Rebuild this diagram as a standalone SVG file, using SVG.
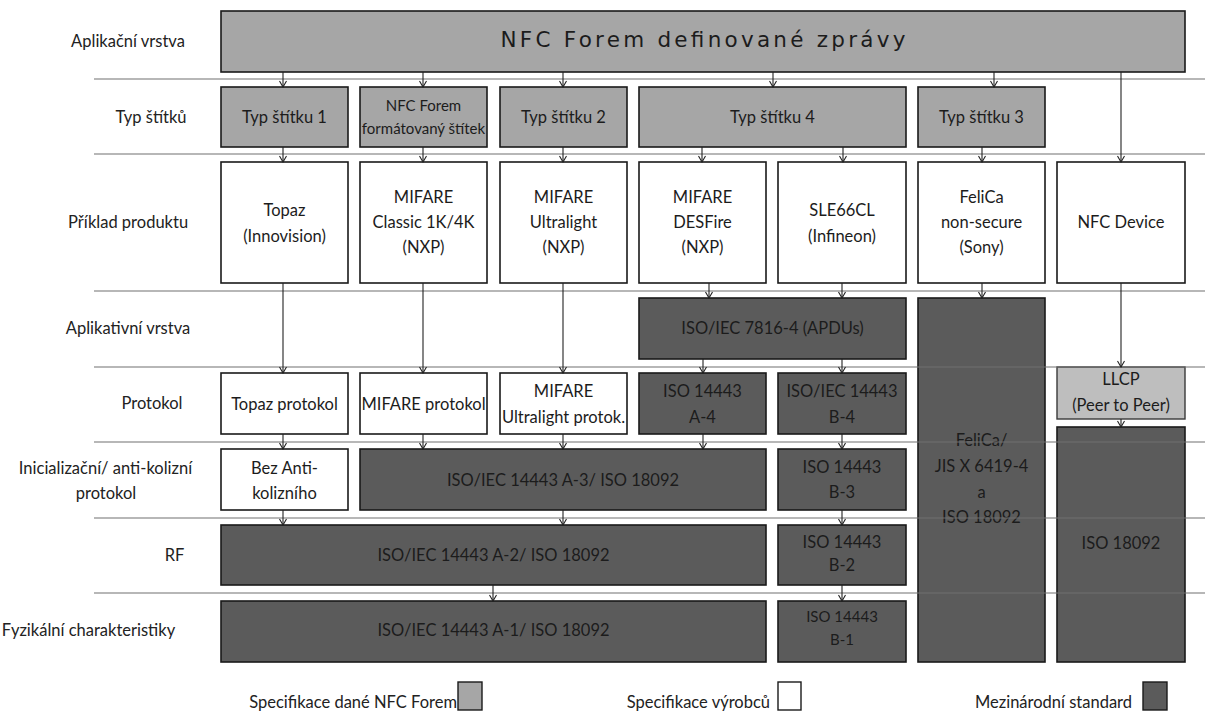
<svg xmlns="http://www.w3.org/2000/svg" width="1205" height="713" viewBox="0 0 1205 713">
<defs>
<marker id="arr" viewBox="0 0 8 8" refX="7" refY="4" markerWidth="8" markerHeight="8" markerUnits="userSpaceOnUse" orient="auto">
<path d="M1,0.5 L7,4 L1,7.5" fill="none" stroke="#222" stroke-width="1.1"/>
</marker>
<style>
text{font-family:Lato,"Liberation Sans",sans-serif;font-size:16.5px;fill:#1c1c1c;text-anchor:middle}
.lbl{fill:#222}
.forum{fill:#a6a6a6;stroke:#1a1a1a;stroke-width:1.6}
.maker{fill:#ffffff;stroke:#1a1a1a;stroke-width:1.6}
.intl{fill:#5b5b5b;stroke:#1a1a1a;stroke-width:1.6}
.llcp{fill:#bebebe;stroke:#3a3a3a;stroke-width:1.4}
.sep{stroke:#707070;stroke-width:1.2}
.con{stroke:#222;stroke-width:1.1;fill:none;marker-end:url(#arr)}
.title{font-family:"DejaVu Sans",sans-serif;font-size:21.5px}
.sm{font-size:15px}
</style>
</defs>
<rect width="1205" height="713" fill="#ffffff"/>

<g id="row-labels">
<text class="lbl" x="128" y="47">Aplikační vrstva</text>
<text class="lbl" x="151" y="123">Typ štítků</text>
<text class="lbl" x="128" y="228">Příklad produktu</text>
<text class="lbl" x="128" y="334">Aplikativní vrstva</text>
<text class="lbl" x="152" y="409">Protokol</text>
<text class="lbl" x="105.5" y="474">Inicializační/ anti-kolizní</text>
<text class="lbl" x="106" y="499">protokol</text>
<text class="lbl" x="174.5" y="561">RF</text>
<text class="lbl" x="88.5" y="636">Fyzikální charakteristiky</text>
</g>

<g id="n-nfc-messages"><rect class="forum" x="221" y="11" width="964" height="61"/><text class="title" x="703" y="47" textLength="405" lengthAdjust="spacing">NFC Forem definované zprávy</text></g>

<g id="n-type1"><rect class="forum" x="221" y="87" width="127" height="60"/><text x="284.5" y="123">Typ štítku 1</text></g>
<g id="n-nfc-formatted"><rect class="forum" x="360" y="87" width="127" height="60"/><text class="sm" x="423.5" y="111">NFC Forem</text><text class="sm" x="423.5" y="134">formátovaný štítek</text></g>
<g id="n-type2"><rect class="forum" x="500" y="87" width="127" height="60"/><text x="563.5" y="123">Typ štítku 2</text></g>
<g id="n-type4"><rect class="forum" x="639" y="87" width="267" height="60"/><text x="772.5" y="123">Typ štítku 4</text></g>
<g id="n-type3"><rect class="forum" x="918" y="87" width="127" height="60"/><text x="981.5" y="123">Typ štítku 3</text></g>

<g id="n-topaz"><rect class="maker" x="221" y="162" width="127" height="121"/><text x="284.5" y="216">Topaz</text><text x="284.5" y="242">(Innovision)</text></g>
<g id="n-classic"><rect class="maker" x="360" y="162" width="127" height="121"/><text x="423.5" y="203">MIFARE</text><text x="423.5" y="228">Classic 1K/4K</text><text x="423.5" y="253">(NXP)</text></g>
<g id="n-ultralight"><rect class="maker" x="500" y="162" width="127" height="121"/><text x="563.5" y="203">MIFARE</text><text x="563.5" y="228">Ultralight</text><text x="563.5" y="253">(NXP)</text></g>
<g id="n-desfire"><rect class="maker" x="639" y="162" width="127" height="121"/><text x="702.5" y="203">MIFARE</text><text x="702.5" y="228">DESFire</text><text x="702.5" y="253">(NXP)</text></g>
<g id="n-sle66cl"><rect class="maker" x="778" y="162" width="128" height="121"/><text x="842" y="216">SLE66CL</text><text x="842" y="242">(Infineon)</text></g>
<g id="n-felica-product"><rect class="maker" x="918" y="162" width="127" height="121"/><text x="981.5" y="203">FeliCa</text><text x="981.5" y="228">non-secure</text><text x="981.5" y="253">(Sony)</text></g>
<g id="n-nfc-device"><rect class="maker" x="1057" y="162" width="128" height="121"/><text x="1121" y="228">NFC Device</text></g>

<g id="n-7816"><rect class="intl" x="639" y="298" width="267" height="61"/><text x="772.5" y="334">ISO/IEC 7816-4 (APDUs)</text></g>
<g id="n-felica-std"><rect class="intl" x="918" y="298" width="127" height="364"/><text x="981.5" y="446">FeliCa/</text><text x="981.5" y="472">JIS X 6419-4</text><text x="981.5" y="498">a</text><text x="981.5" y="523">ISO 18092</text></g>

<g id="n-topaz-protocol"><rect class="maker" x="221" y="373" width="127" height="61"/><text x="284.5" y="410">Topaz protokol</text></g>
<g id="n-mifare-protocol"><rect class="maker" x="360" y="373" width="127" height="61"/><text x="423.5" y="410">MIFARE protokol</text></g>
<g id="n-ultralight-protocol"><rect class="maker" x="500" y="373" width="127" height="61"/><text x="563.5" y="397">MIFARE</text><text x="563.5" y="423">Ultralight protok.</text></g>
<g id="n-a4"><rect class="intl" x="639" y="373" width="127" height="61"/><text x="702.5" y="397">ISO 14443</text><text x="702.5" y="423">A-4</text></g>
<g id="n-b4"><rect class="intl" x="778" y="373" width="128" height="61"/><text x="842" y="397">ISO/IEC 14443</text><text x="842" y="423">B-4</text></g>
<g id="n-llcp"><rect class="llcp" x="1057" y="367" width="128" height="52"/><text x="1121" y="385">LLCP</text><text x="1121" y="411">(Peer to Peer)</text></g>
<g id="n-18092"><rect class="intl" x="1057" y="427" width="128" height="235"/><text x="1121" y="549">ISO 18092</text></g>

<g id="n-no-anticollision"><rect class="maker" x="221" y="449" width="127" height="61"/><text x="284.5" y="474">Bez Anti-</text><text x="284.5" y="499">kolizního</text></g>
<g id="n-a3"><rect class="intl" x="360" y="449" width="406" height="61"/><text x="563" y="486">ISO/IEC 14443 A-3/ ISO 18092</text></g>
<g id="n-b3"><rect class="intl" x="778" y="449" width="128" height="61"/><text x="842" y="473">ISO 14443</text><text x="842" y="498">B-3</text></g>

<g id="n-a2"><rect class="intl" x="221" y="525" width="545" height="60"/><text x="493.5" y="561">ISO/IEC 14443 A-2/ ISO 18092</text></g>
<g id="n-b2"><rect class="intl" x="778" y="525" width="128" height="60"/><text x="842" y="548">ISO 14443</text><text x="842" y="571">B-2</text></g>

<g id="n-a1"><rect class="intl" x="221" y="601" width="545" height="61"/><text x="493.5" y="636">ISO/IEC 14443 A-1/ ISO 18092</text></g>
<g id="n-b1"><rect class="intl" x="778" y="601" width="128" height="61"/><text class="sm" x="842" y="622">ISO 14443</text><text class="sm" x="842" y="645">B-1</text></g>

<g id="separators">
<line class="sep" x1="94" y1="79" x2="1205" y2="79"/>
<line class="sep" x1="94" y1="154" x2="1205" y2="154"/>
<line class="sep" x1="94" y1="291" x2="1205" y2="291"/>
<line class="sep" x1="94" y1="367" x2="1205" y2="367"/>
<line class="sep" x1="94" y1="442" x2="1205" y2="442"/>
<line class="sep" x1="94" y1="518" x2="1205" y2="518"/>
<line class="sep" x1="94" y1="593" x2="1205" y2="593"/>
</g>

<g id="connectors">
<line class="con" x1="283" y1="72" x2="283" y2="87"/>
<line class="con" x1="423" y1="72" x2="423" y2="87"/>
<line class="con" x1="563" y1="72" x2="563" y2="87"/>
<line class="con" x1="773" y1="72" x2="773" y2="87"/>
<line class="con" x1="994" y1="72" x2="994" y2="87"/>
<line class="con" x1="1121" y1="72" x2="1121" y2="162"/>
<line class="con" x1="283" y1="147" x2="283" y2="162"/>
<line class="con" x1="423" y1="147" x2="423" y2="162"/>
<line class="con" x1="563" y1="147" x2="563" y2="162"/>
<line class="con" x1="702" y1="147" x2="702" y2="162"/>
<line class="con" x1="843" y1="147" x2="843" y2="162"/>
<line class="con" x1="982" y1="147" x2="982" y2="162"/>
<line class="con" x1="283" y1="283" x2="283" y2="373"/>
<line class="con" x1="423" y1="283" x2="423" y2="373"/>
<line class="con" x1="563" y1="283" x2="563" y2="373"/>
<line class="con" x1="709" y1="283" x2="709" y2="298"/>
<line class="con" x1="842" y1="283" x2="842" y2="298"/>
<line class="con" x1="982" y1="283" x2="982" y2="298"/>
<line class="con" x1="1121" y1="283" x2="1121" y2="367"/>
<line class="con" x1="703" y1="359" x2="703" y2="373"/>
<line class="con" x1="842" y1="359" x2="842" y2="373"/>
<line class="con" x1="283" y1="434" x2="283" y2="449"/>
<line class="con" x1="423" y1="434" x2="423" y2="449"/>
<line class="con" x1="563" y1="434" x2="563" y2="449"/>
<line class="con" x1="703" y1="434" x2="703" y2="449"/>
<line class="con" x1="842" y1="434" x2="842" y2="449"/>
<line class="con" x1="1121" y1="419" x2="1121" y2="427"/>
<line class="con" x1="283" y1="510" x2="283" y2="525"/>
<line class="con" x1="563" y1="510" x2="563" y2="525"/>
<line class="con" x1="842" y1="510" x2="842" y2="525"/>
<line class="con" x1="493" y1="585" x2="493" y2="601"/>
<line class="con" x1="842" y1="585" x2="842" y2="601"/>
</g>

<g id="legend">
<text class="lbl" x="457" y="708" style="text-anchor:end">Specifikace dané NFC Forem</text>
<rect class="forum" x="458" y="682" width="24" height="28" style="stroke-width:1.4"/>
<text class="lbl" x="770" y="708" style="text-anchor:end">Specifikace výrobců</text>
<rect class="maker" x="778" y="682" width="23" height="28" style="stroke-width:1.4"/>
<text class="lbl" x="1053.5" y="708">Mezinárodní standard</text>
<rect class="intl" x="1143" y="682" width="24" height="28" style="stroke-width:1.4"/>
</g>
</svg>
